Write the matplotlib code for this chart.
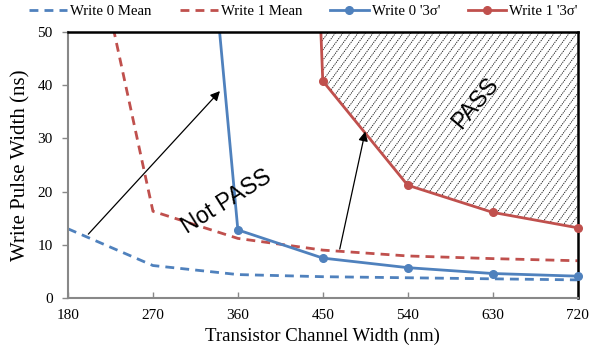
import numpy as np
import matplotlib
matplotlib.use("Agg")
import matplotlib.pyplot as plt
from matplotlib.patches import Polygon
from matplotlib.collections import LineCollection

# Channel widths (nm)
widths = [180, 270, 360, 450, 540, 630, 720]

# Write pulse widths (ns)
write0_mean = [13.0, 6.1, 4.4, 4.0, 3.8, 3.6, 3.4]
write1_mean = [90.0, 16.3, 11.2, 9.0, 7.9, 7.4, 7.0]
widths_3s0 = [270, 360, 450, 540, 630, 720]
write0_3sigma = [186.0, 12.8, 7.5, 5.7, 4.6, 4.1]
widths_3s1 = [360, 450, 540, 630, 720]
write1_3sigma = [455.0, 40.8, 21.2, 16.1, 13.2]

xticks = [180, 270, 360, 450, 540, 630, 720]
yticks = [0, 10, 20, 30, 40, 50]

blue = "#4F81BD"
red = "#C0504D"
serif = "Liberation Serif"
sans = "Liberation Sans"
YMAX = 50

fig = plt.figure(figsize=(5.89, 3.56), dpi=100)
ax = fig.add_axes([0.1155, 0.163, 0.865, 0.747])
ax.set_xlim(180, 720)
ax.set_ylim(0, YMAX)

dash = (0, (3.2, 2.2))
ax.plot(widths, write0_mean, color=blue, lw=2, ls=dash)
ax.plot(widths, write1_mean, color=red, lw=2, ls=dash)
ax.plot(widths_3s0, write0_3sigma, color=blue, lw=2)
ax.plot(widths_3s1, write1_3sigma, color=red, lw=2)


def visible_markers(xs, ys, color):
    xs = np.asarray(xs, float)
    ys = np.asarray(ys, float)
    keep = ys <= YMAX
    ax.plot(xs[keep], ys[keep], ls="none", marker="o", ms=5.5, color=color,
            clip_on=False, zorder=3)


visible_markers(widths_3s0, write0_3sigma, blue)
visible_markers(widths_3s1, write1_3sigma, red)

# PASS region: above the Write 1 3-sigma curve, up to the top of the plot
xx = np.linspace(widths_3s1[0], widths_3s1[-1], 3000)
yy = np.interp(xx, widths_3s1, write1_3sigma)
inside = yy <= YMAX
px, py = xx[inside], yy[inside]
region = Polygon(np.column_stack([np.r_[px, px[::-1]], np.r_[py, np.full_like(py, YMAX)]]),
                 closed=True, facecolor="none", edgecolor="none")
ax.add_patch(region)

# dotted diagonal hatching clipped to the region
slope = 0.24          # ns per nm, a steep diagonal on screen
step = 8.0            # nm between hatch lines
starts = np.arange(px[0] - YMAX / slope, 720 + step, step)
segs = [[(x0, 0), (x0 + YMAX / slope, YMAX)] for x0 in starts]
hatch = LineCollection(segs, colors="#111111", linewidths=0.6,
                       linestyles=[(0, (1.6, 1.1))], zorder=1)
ax.add_collection(hatch)
hatch.set_clip_path(region)

ax.set_xticks(xticks)
ax.set_yticks(yticks)
ax.set_xticklabels([str(v) for v in xticks], family=serif, fontsize=11)
ax.set_yticklabels([str(v) for v in yticks], family=serif, fontsize=11)
ax.tick_params(axis="x", direction="in", length=4, width=1, color="#888888", pad=8)
ax.tick_params(axis="y", direction="out", length=4, width=1, color="#888888", pad=7)

for s in ("left", "bottom"):
    ax.spines[s].set_color("#888888")
    ax.spines[s].set_linewidth(1.5)
for s in ("top", "right"):
    ax.spines[s].set_color("black")
    ax.spines[s].set_linewidth(1.8)

ax.set_xlabel("Transistor Channel Width (nm)", family=serif, fontsize=13.5, labelpad=4)
ax.set_ylabel("Write Pulse Width (ns)", family=serif, fontsize=15, labelpad=5)

arrow = dict(arrowstyle="-|>", lw=0.9, color="black", mutation_scale=14,
             shrinkA=0, shrinkB=0)
ax.annotate("", xy=(341, 38.9), xytext=(201.5, 12.0), arrowprops=arrow)
ax.annotate("", xy=(495, 31.3), xytext=(468, 9.2), arrowprops=arrow)

ax.text(348, 18.2, "Not PASS", family=sans, fontsize=16.5, rotation=32,
        ha="center", va="center", rotation_mode="anchor")
ax.text(612, 36.6, "PASS", family=sans, fontsize=16.5, rotation=50,
        ha="center", va="center", rotation_mode="anchor")

handles = [
    plt.Line2D([], [], color=blue, lw=2, ls=dash),
    plt.Line2D([], [], color=red, lw=2, ls=dash),
    plt.Line2D([], [], color=blue, lw=2, marker="o", ms=5.5),
    plt.Line2D([], [], color=red, lw=2, marker="o", ms=5.5),
]
labels = ["Write 0 Mean", "Write 1 Mean", "Write 0 '3σ'", "Write 1 '3σ'"]
fig.legend(handles, labels, loc="upper center", bbox_to_anchor=(0.515, 1.025),
           ncol=4, frameon=False, prop={"family": serif, "size": 10.6},
           handlelength=2.6, handletextpad=0.2, columnspacing=1.9)

fig.savefig("out.png", dpi=100)
